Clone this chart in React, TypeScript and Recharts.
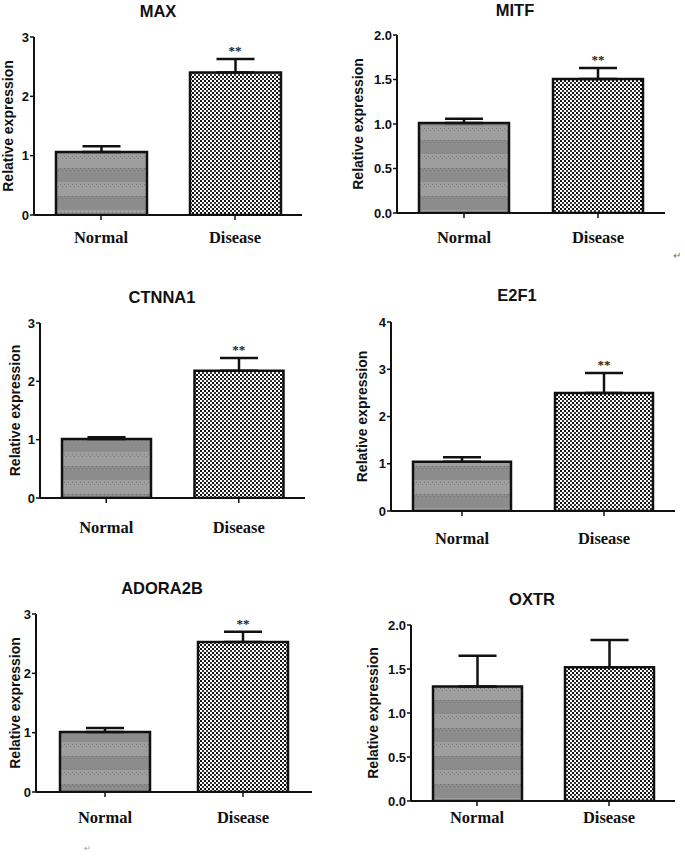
import React from "react";
import {
  BarChart,
  Bar,
  Cell,
  XAxis,
  YAxis,
  ErrorBar,
  ReferenceDot,
} from "recharts";

// values
const genes = ["MAX", "MITF", "CTNNA1", "E2F1", "ADORA2B", "OXTR"];
const groups = ["Normal", "Disease"];
const normalMean = [1.06, 1.01, 1.01, 1.04, 1.01, 1.3];
const normalErr = [0.1, 0.05, 0.03, 0.1, 0.07, 0.35];
const diseaseMean = [2.4, 1.505, 2.18, 2.5, 2.53, 1.52];
const diseaseErr = [0.23, 0.125, 0.22, 0.42, 0.17, 0.31];
const yMax = [3, 2, 3, 4, 3, 2];
const yStep = [1, 0.5, 1, 1, 1, 0.5];
const significant = [true, true, true, true, true, false];
const yLabel = "Relative expression";

// panel geometry on the page
const panels = [
  { left: 0, top: 0, axisX: 34, plotTop: 37, plotBottom: 215, plotRight: 302, titleX: 158, titleY: 11, labelX: 8, gap: 22, barSize: 91 },
  { left: 340, top: 0, axisX: 397, plotTop: 35, plotBottom: 213, plotRight: 665, titleX: 515, titleY: 10, labelX: 358, gap: 24, barSize: 90 },
  { left: 0, top: 270, axisX: 40, plotTop: 323, plotBottom: 498, plotRight: 305, titleX: 162, titleY: 297, labelX: 15, gap: 29, barSize: 89 },
  { left: 340, top: 270, axisX: 391, plotTop: 322, plotBottom: 511, plotRight: 675, titleX: 517, titleY: 295, labelX: 362, gap: 27, barSize: 98 },
  { left: 0, top: 560, axisX: 36, plotTop: 614, plotBottom: 792, plotRight: 312, titleX: 162, titleY: 588, labelX: 15, gap: 25, barSize: 90 },
  { left: 340, top: 560, axisX: 411, plotTop: 625, plotBottom: 801, plotRight: 675, titleX: 532, titleY: 599, labelX: 373, gap: 16, barSize: 89 },
];

const sans = "'Liberation Sans', Arial, sans-serif";
const serif = "'Liberation Serif', 'Times New Roman', serif";

const Panel = ({ i }: { i: number }) => {
  const p = panels[i];
  const data = [
    { group: groups[0], mean: normalMean[i], err: [0, normalErr[i]] },
    { group: groups[1], mean: diseaseMean[i], err: [0, diseaseErr[i]] },
  ];
  const ticks: number[] = [];
  for (let k = 0; k <= Math.round(yMax[i] / yStep[i]); k++) ticks.push(k * yStep[i]);
  const xH = 50;
  const width = p.plotRight - p.left + 6;
  const height = p.plotBottom - p.top + xH;
  const midY = (p.plotTop + p.plotBottom) / 2 - p.top;
  const lx = p.labelX - p.left;

  return (
    <>
      <div
        style={{
          position: "absolute",
          left: p.titleX - 80,
          top: p.titleY - 10,
          width: 160,
          textAlign: "center",
          fontFamily: sans,
          fontWeight: 700,
          fontSize: 16.5,
          lineHeight: "20px",
          color: "#111",
        }}
      >
        {genes[i]}
      </div>
      <div style={{ position: "absolute", left: p.left, top: p.top }}>
        <BarChart
          width={width}
          height={height}
          data={data}
          margin={{ top: p.plotTop - p.top, right: 6, left: 0, bottom: 0 }}
          barSize={p.barSize}
        >
          <defs>
            <pattern id={`gray${i}`} width="4" height="28" patternUnits="userSpaceOnUse">
              <rect width="4" height="28" fill="#9e9e9e" />
              <rect width="4" height="14" fill="#8c8c8c" />
              <rect x="0" y="0" width="1" height="1" fill="#727272" />
              <rect x="2" y="2" width="1" height="1" fill="#727272" />
              <rect x="0" y="16" width="1" height="1" fill="#7c7c7c" />
              <rect x="2" y="18" width="1" height="1" fill="#7c7c7c" />
            </pattern>
            <pattern id={`check${i}`} width="4" height="4" patternUnits="userSpaceOnUse">
              <rect width="4" height="4" fill="#fff" />
              <rect x="0" y="0" width="2" height="2" fill="#111" />
              <rect x="2" y="2" width="2" height="2" fill="#333" />
            </pattern>
          </defs>
          <XAxis
            dataKey="group"
            height={xH}
            axisLine={{ stroke: "#111", strokeWidth: 2 }}
            tickLine={{ stroke: "#111", strokeWidth: 1.5 }}
            tickSize={5}
            tickMargin={p.gap - 11}
            tick={{ fontFamily: serif, fontWeight: 700, fontSize: 16.5, fill: "#111" }}
          />
          <YAxis
            width={p.axisX - p.left}
            domain={[0, yMax[i]]}
            ticks={ticks}
            interval={0}
            allowDataOverflow
            tickFormatter={(v: number) => (yStep[i] < 1 ? v.toFixed(1) : String(v))}
            axisLine={{ stroke: "#111", strokeWidth: 2 }}
            tickLine={{ stroke: "#111", strokeWidth: 1.5 }}
            tickSize={4}
            tickMargin={1}
            tick={{ fontFamily: sans, fontWeight: 700, fontSize: 13, fill: "#111" }}
            label={{
              content: () => (
                <text
                  x={lx}
                  y={midY}
                  transform={`rotate(-90, ${lx}, ${midY})`}
                  textAnchor="middle"
                  dominantBaseline="central"
                  fontFamily={sans}
                  fontWeight={700}
                  fontSize={14}
                  fill="#111"
                >
                  {yLabel}
                </text>
              ),
            }}
          />
          <Bar dataKey="mean" stroke="#111" strokeWidth={2.5} isAnimationActive={false}>
            <Cell fill={`url(#gray${i})`} />
            <Cell fill={`url(#check${i})`} />
            <ErrorBar
              dataKey="err"
              direction="y"
              width={19}
              stroke="#111"
              strokeWidth={2.5}
              isAnimationActive={false}
            />
          </Bar>
          {significant[i] && (
            <ReferenceDot
              x={groups[1]}
              y={diseaseMean[i] + diseaseErr[i]}
              r={0}
              stroke="none"
              label={{
                value: "**",
                position: "top",
                offset: 4,
                fontFamily: serif,
                fontWeight: 700,
                fontSize: 13,
                fill: "#222",
              }}
            />
          )}
        </BarChart>
      </div>
    </>
  );
};

export default function App() {
  return (
    <div
      style={{
        position: "absolute",
        left: 0,
        top: 0,
        width: 685,
        height: 856,
        background: "#fff",
        overflow: "hidden",
      }}
    >
      {genes.map((g, i) => (
        <Panel key={g} i={i} />
      ))}
      <div style={{ position: "absolute", left: 673, top: 250, fontSize: 10, color: "#777", fontFamily: sans }}>↵</div>
      <div style={{ position: "absolute", left: 84, top: 844, fontSize: 8, color: "#999", fontFamily: sans }}>↵</div>
    </div>
  );
}
